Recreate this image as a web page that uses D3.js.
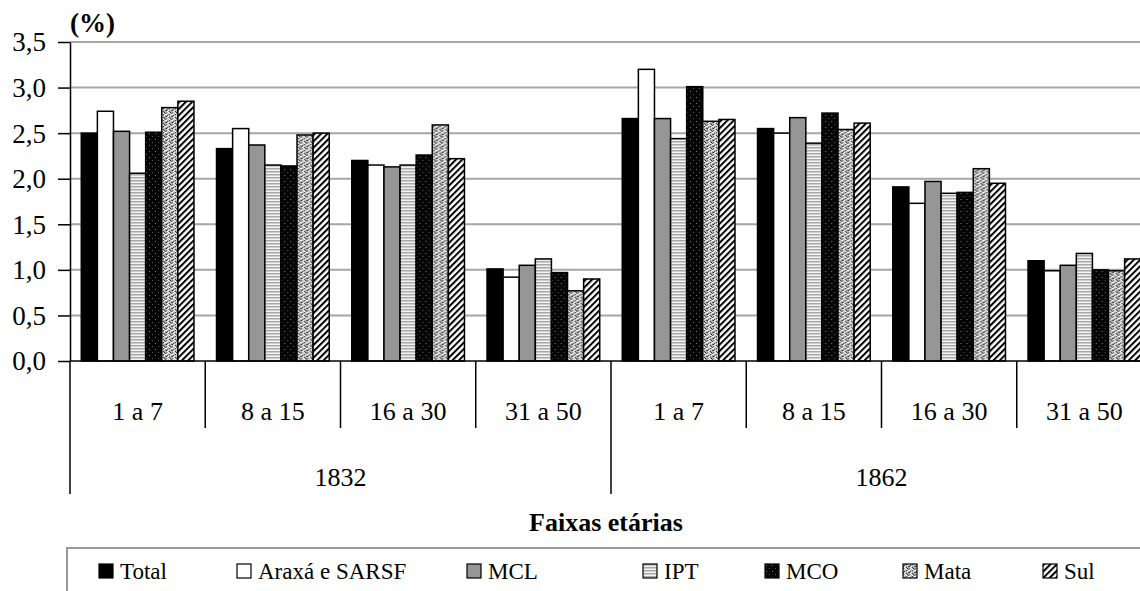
<!DOCTYPE html>
<html>
<head>
<meta charset="utf-8">
<script src="https://cdn.jsdelivr.net/npm/d3@7"></script>
<style>
  body { margin: 0; background: #fff; }
</style>
</head>
<body>
<svg id="chart" width="1140" height="591"></svg>
<script>
// faixas etarias por ano
var ages = ["1 a 7", "8 a 15", "16 a 30", "31 a 50"];
var years = ["1832", "1862"];
var seriesNames = ["Total", "Araxá e SARSF", "MCL", "IPT", "MCO", "Mata", "Sul"];
var yTicks = [0, 0.5, 1, 1.5, 2, 2.5, 3, 3.5];

// values (%) in order 1832: 1a7, 8a15, 16a30, 31a50 | 1862: same
var total = [2.50, 2.33, 2.20, 1.01, 2.66, 2.55, 1.91, 1.10];
var araxa = [2.74, 2.55, 2.15, 0.92, 3.20, 2.50, 1.73, 0.99];
var mcl   = [2.52, 2.37, 2.13, 1.05, 2.66, 2.67, 1.97, 1.05];
var ipt   = [2.06, 2.15, 2.15, 1.12, 2.44, 2.39, 1.84, 1.18];
var mco   = [2.51, 2.14, 2.26, 0.97, 3.01, 2.72, 1.85, 1.00];
var mata  = [2.78, 2.48, 2.59, 0.77, 2.63, 2.54, 2.11, 0.99];
var sul   = [2.85, 2.50, 2.22, 0.90, 2.65, 2.61, 1.95, 1.12];

var seriesValues = [total, araxa, mcl, ipt, mco, mata, sul];
var fills = ["#000", "#fff", "url(#pMCL)", "url(#pIPT)", "url(#pMCO)", "url(#pMata)", "url(#pSul)"];
var SERIF = "'Liberation Serif'";

var svg = d3.select("#chart");
var defs = svg.append("defs");

// patterns
defs.append("pattern").attr("id", "pMCL").attr("patternUnits", "userSpaceOnUse")
  .attr("width", 4).attr("height", 4)
  .append("rect").attr("width", 4).attr("height", 4).attr("fill", "#969696");

var pIPT = defs.append("pattern").attr("id", "pIPT").attr("patternUnits", "userSpaceOnUse")
  .attr("width", 4).attr("height", 3);
pIPT.append("rect").attr("width", 4).attr("height", 3).attr("fill", "#f2f2f2");
pIPT.append("rect").attr("y", 0).attr("width", 4).attr("height", 1.5).attr("fill", "#a8a8a8");

var pMCO = defs.append("pattern").attr("id", "pMCO").attr("patternUnits", "userSpaceOnUse")
  .attr("width", 6).attr("height", 6);
pMCO.append("rect").attr("width", 6).attr("height", 6).attr("fill", "#060606");
pMCO.append("rect").attr("x", 1).attr("y", 1).attr("width", 1).attr("height", 1).attr("fill", "#777");
pMCO.append("rect").attr("x", 4).attr("y", 4).attr("width", 1).attr("height", 1).attr("fill", "#555");

// mata: grainy grey tile
var pMata = defs.append("pattern").attr("id", "pMata").attr("patternUnits", "userSpaceOnUse")
  .attr("width", 6).attr("height", 6);
pMata.append("rect").attr("width", 6).attr("height", 6).attr("fill", "#b4b4b4");
[[0, 0, "#fff"], [3, 0, "#444"], [5, 0, "#fff"], [1, 1, "#555"], [4, 1, "#eee"],
 [2, 2, "#fff"], [0, 2, "#333"], [5, 2, "#666"], [1, 3, "#fff"], [3, 3, "#444"],
 [0, 4, "#777"], [2, 4, "#fff"], [4, 4, "#333"], [1, 5, "#eee"], [3, 5, "#fff"], [5, 5, "#555"]]
  .forEach(function(p) {
    pMata.append("rect").attr("x", p[0]).attr("y", p[1]).attr("width", 1).attr("height", 1).attr("fill", p[2]);
  });

var pSul = defs.append("pattern").attr("id", "pSul").attr("patternUnits", "userSpaceOnUse")
  .attr("width", 4.5).attr("height", 4.5).attr("patternTransform", "rotate(45)");
pSul.append("rect").attr("width", 4.5).attr("height", 4.5).attr("fill", "#fff");
pSul.append("rect").attr("width", 2).attr("height", 4.5).attr("fill", "#000");

// scales
var groups = [];
years.forEach(function(yr) { ages.forEach(function(a) { groups.push(yr + "|" + a); }); });

var x0 = d3.scaleBand().domain(groups).range([70, 1152]).padding(0);
var x1 = d3.scaleBand().domain(seriesNames).range([0, x0.bandwidth()]).paddingInner(0).paddingOuter(0.7);
var y = d3.scaleLinear().domain([0, 3.5]).range([361, 42]);

var locale = d3.formatLocale({ decimal: ",", thousands: ".", grouping: [3], currency: ["R$", ""] });
var fmt = locale.format(".1f");

// gridlines
svg.append("g").selectAll("line")
  .data(yTicks.filter(function(d) { return d > 0; }))
  .join("line")
  .attr("x1", 70).attr("x2", 1140)
  .attr("y1", function(d) { return y(d); }).attr("y2", function(d) { return y(d); })
  .attr("stroke", "#a6a6a6").attr("stroke-width", 2);

// bars
var barG = svg.append("g");
groups.forEach(function(g, gi) {
  barG.append("g").attr("transform", "translate(" + x0(g) + ",0)")
    .selectAll("rect")
    .data(seriesNames)
    .join("rect")
    .attr("x", function(s) { return x1(s); })
    .attr("y", function(s, si) { return y(seriesValues[si][gi]); })
    .attr("width", x1.bandwidth())
    .attr("height", function(s, si) { return y(0) - y(seriesValues[si][gi]); })
    .attr("fill", function(s, si) { return fills[si]; })
    .attr("stroke", "#000").attr("stroke-width", 1.5);
});

// y axis
var yAxis = svg.append("g").attr("transform", "translate(70,0)")
  .call(d3.axisLeft(y).tickValues(yTicks).tickFormat(fmt).tickSize(12).tickSizeOuter(0));
yAxis.select(".domain").attr("stroke", "#000").attr("stroke-width", 1.5);
yAxis.selectAll(".tick line").attr("stroke", "#000").attr("stroke-width", 1.5);
yAxis.selectAll(".tick text")
  .style("font-family", SERIF).style("font-size", "27px")
  .attr("fill", "#000").attr("x", -24).attr("dy", "0.33em");

// baseline
svg.append("line").attr("x1", 70).attr("x2", 1140).attr("y1", y(0)).attr("y2", y(0))
  .attr("stroke", "#000").attr("stroke-width", 1.5);

// category dividers
var catG = svg.append("g");
groups.forEach(function(g, gi) {
  var xl = x0(g);
  var outer = gi % ages.length === 0;
  catG.append("line").attr("x1", xl).attr("x2", xl)
    .attr("y1", y(0)).attr("y2", outer ? 494 : 428)
    .attr("stroke", "#000").attr("stroke-width", 1.5);
  catG.append("text").attr("x", xl + x0.bandwidth() / 2).attr("y", 420)
    .attr("text-anchor", "middle")
    .style("font-family", SERIF).style("font-size", "26px")
    .text(g.split("|")[1]);
});
years.forEach(function(yr) {
  var start = x0(yr + "|" + ages[0]);
  var end = start + x0.bandwidth() * ages.length;
  catG.append("text").attr("x", (start + end) / 2).attr("y", 486)
    .attr("text-anchor", "middle")
    .style("font-family", SERIF).style("font-size", "26px")
    .text(yr);
});

// titles
svg.append("text").attr("x", 70).attr("y", 32)
  .style("font-family", SERIF).style("font-size", "27px").style("font-weight", "bold")
  .text("(%)");
svg.append("text").attr("x", 606).attr("y", 531).attr("text-anchor", "middle")
  .style("font-family", SERIF).style("font-size", "26px").style("font-weight", "bold")
  .text("Faixas etárias");

// legend
svg.append("rect").attr("x", 67).attr("y", 548).attr("width", 1100).attr("height", 60)
  .attr("fill", "#fff").attr("stroke", "#999").attr("stroke-width", 2);
var legendX = [99, 237, 467, 643, 765, 903, 1043];
var leg = svg.append("g").selectAll("g").data(seriesNames).join("g")
  .attr("transform", function(d, i) { return "translate(" + legendX[i] + ",564)"; });
leg.append("rect").attr("width", 14).attr("height", 14)
  .attr("fill", function(d, i) { return fills[i]; })
  .attr("stroke", "#000").attr("stroke-width", 1.2);
leg.append("text").attr("x", 21).attr("y", 15)
  .style("font-family", SERIF).style("font-size", "23px")
  .text(function(d) { return d; });
</script>
</body>
</html>
